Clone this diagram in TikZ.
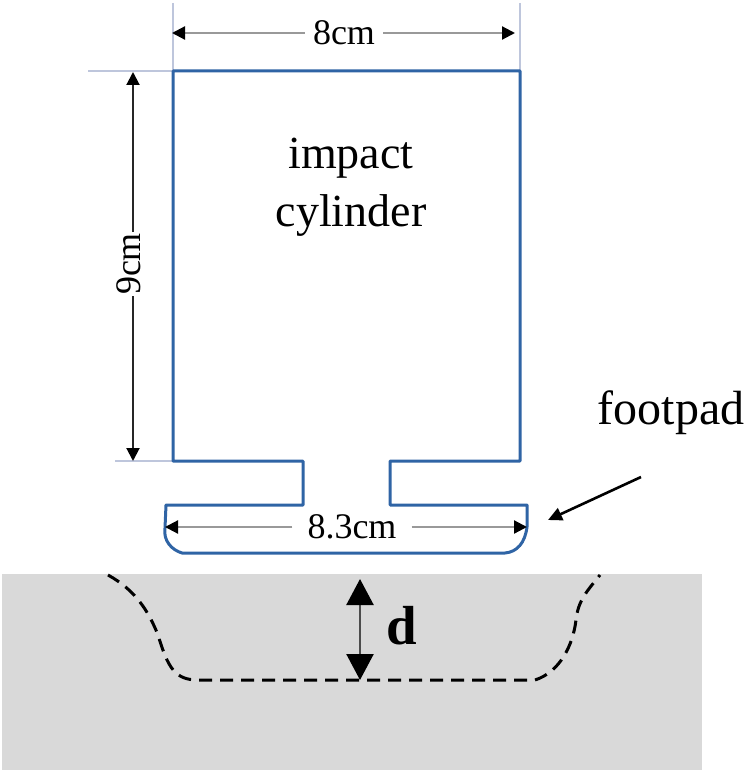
\documentclass[tikz,border=0pt]{standalone}
\usepackage{fontspec}
\setmainfont{Liberation Serif}
\usetikzlibrary{arrows.meta}
\definecolor{outl}{RGB}{47,100,165}
\definecolor{ext}{RGB}{190,198,220}
\definecolor{grnd}{RGB}{217,217,217}
\tikzset{
  x=1pt,y=-1pt,
  lab/.style={inner sep=2pt,text=black},
  extline/.style={ext,line width=1.6pt},
  dimgray/.style={draw=black!40,line width=2.2pt,-{Triangle[length=13pt,width=13pt,color=black]}},
  dimblack/.style={draw=black!85,line width=2pt,-{Triangle[length=13pt,width=13pt,color=black]}},
  outline/.style={outl,line width=3pt,line join=round},
  rim/.style={black,line width=3pt,dash pattern=on 13pt off 8pt},
}
\begin{document}
\begin{tikzpicture}
\useasboundingbox (0,0) rectangle (750,773);
% ground
\fill[grnd] (2,574) rectangle (702,770);
\draw[rim] (108,575) .. controls (135,590) and (148,610) .. (158,635) .. controls (168,668) and (175,680) .. (198,680) -- (535,680) .. controls (560,672) and (573,645) .. (576,620) .. controls (578,600) and (588,590) .. (600,575);
% extension lines
\coordinate (tl) at (173,71); \coordinate (tr) at (520,71);
\coordinate (bl) at (173,461);
\coordinate (tlx) at (173,3); \coordinate (trx) at (520,3);
\coordinate (hx1) at (88,71); \coordinate (hx2) at (115,461);
\draw[extline] (tlx) -- (tl);
\draw[extline] (trx) -- (tr);
\draw[extline] (hx1) -- (tl);
\draw[extline] (hx2) -- (bl);
% body outline
\draw[outline] (tl) -- (tr) -- (520,461) -- (390,461) -- (390,505) -- (527,505) -- (527,527)
  .. controls (525,543) and (517,552) .. (505,553) -- (182,553)
  .. controls (172,550) and (163,541) .. (165,528) -- (166,505) -- (303,505) -- (303,461) -- (bl) -- cycle;
% 8cm
\node[lab,inner xsep=8pt,font=\fontsize{36}{36}\selectfont] (n8) at (344,33) {8cm};
\coordinate (a8l) at (172,33); \coordinate (a8r) at (515,33);
\draw[dimgray] (n8.west) -- (a8l);
\draw[dimgray] (n8.east) -- (a8r);
% 9cm
\node[lab,rotate=90,font=\fontsize{36}{36}\selectfont] (n9) at (129,264) {9cm};
\coordinate (a9t) at (133,72); \coordinate (a9b) at (133,461);
\draw[dimblack] (133,232) -- (a9t);
\draw[dimblack] (133,296) -- (a9b);
% 8.3cm
\node[lab,inner xsep=15pt,font=\fontsize{36}{36}\selectfont] (n83) at (352,527) {8.3cm};
\coordinate (a83l) at (165,527); \coordinate (a83r) at (527,527);
\draw[dimgray] (n83.west) -- (a83l);
\draw[dimgray] (n83.east) -- (a83r);
% labels
\node[font=\fontsize{46}{58}\selectfont,align=center,lab] (cyl) at (351,187) {impact\\cylinder};
\node[lab,font=\fontsize{48}{48}\selectfont] (fp) at (671,413) {footpad};
\coordinate (fps) at (641,477); \coordinate (fpe) at (548,520);
\draw[black,line width=2.6pt,-{Triangle[length=14pt,width=13pt,color=black]}] (fps) -- (fpe);
% d
\coordinate (dt) at (360,579); \coordinate (db) at (360,680);
\draw[draw=black!70,line width=2.4pt,{Triangle[length=26pt,width=27pt,color=black]}-{Triangle[length=26pt,width=27pt,color=black]}] (dt) -- (db);
\node[lab,font=\fontsize{55}{55}\selectfont\bfseries] (dl) at (402,626) {d};
\end{tikzpicture}
\end{document}
